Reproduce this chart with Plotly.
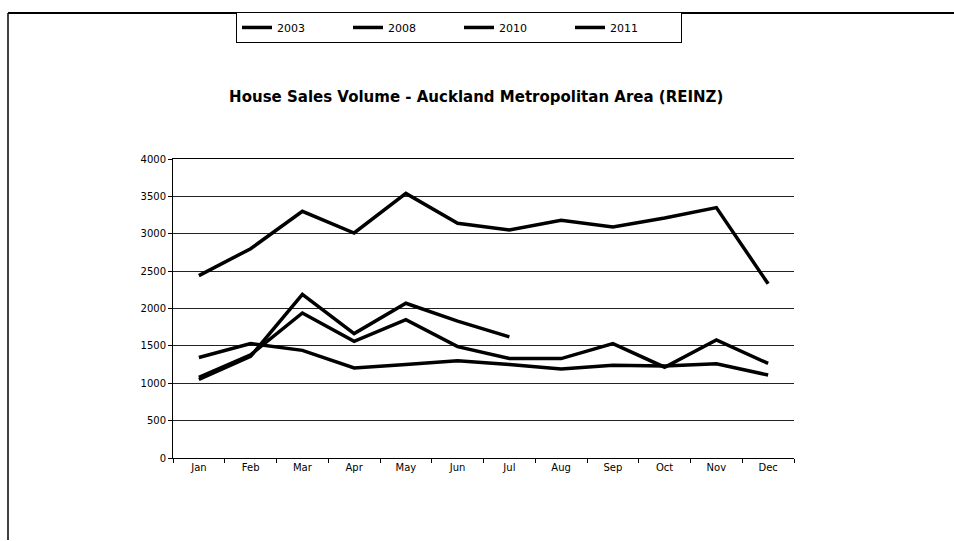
import plotly.graph_objects as go

months = ["Jan", "Feb", "Mar", "Apr", "May", "Jun", "Jul", "Aug", "Sep", "Oct", "Nov", "Dec"]
s2003 = [2440, 2800, 3300, 3010, 3540, 3140, 3050, 3180, 3090, 3210, 3350, 2330]
s2008 = [1345, 1530, 1440, 1205, 1250, 1300, 1250, 1190, 1240, 1230, 1260, 1110]
s2010 = [1080, 1380, 1940, 1560, 1850, 1490, 1330, 1330, 1530, 1215, 1580, 1265]
s2011 = [1050, 1360, 2190, 1665, 2070, 1830, 1620]
series = [("2003", s2003), ("2008", s2008), ("2010", s2010), ("2011", s2011)]
yticks = [0, 500, 1000, 1500, 2000, 2500, 3000, 3500, 4000]

W, H = 954, 541
L, R, T, B = 173, 794, 155, 458

fig = go.Figure()
for name, vals in series:
    fig.add_trace(go.Scatter(x=months[:len(vals)], y=vals, name=name, mode="lines",
                             line=dict(color="black", width=3.5)))

def px(x):
    return (x - L) / (R - L)

def py(y):
    return (B - y) / (B - T)

# outer frame (top and left)
fig.add_shape(type="line", xref="paper", yref="paper", x0=px(8), x1=px(954), y0=py(7), y1=py(7),
              line=dict(color="black", width=2))
fig.add_shape(type="line", xref="paper", yref="paper", x0=px(8), x1=px(8), y0=py(7), y1=py(541),
              line=dict(color="black", width=1.5))

fig.update_layout(
    width=W, height=H,
    margin=dict(l=L, r=W - R, t=T, b=H - B),
    paper_bgcolor="white", plot_bgcolor="white",
    font=dict(family="DejaVu Sans", color="black", size=10),
    title=dict(text="<b>House Sales Volume - Auckland Metropolitan Area (REINZ)</b>",
               x=px(483), xanchor="center", y=1 - 97 / H, yanchor="middle",
               font=dict(family="DejaVu Sans", size=15, color="black")),
    legend=dict(orientation="h", x=px(236), xanchor="left", y=py(6), yanchor="top",
                bordercolor="black", borderwidth=1, bgcolor="white",
                font=dict(family="DejaVu Sans", size=11, color="black"),
                entrywidth=66, entrywidthmode="pixels", itemwidth=30,
                tracegroupgap=0),
    showlegend=True,
)
fig.update_xaxes(type="category", categoryorder="array", categoryarray=months,
                 range=[-0.5, 11.5], showline=True, mirror=True, linecolor="black", linewidth=1,
                 ticks="outside", tickson="boundaries", ticklen=4, tickcolor="black",
                 showgrid=False, zeroline=False, tickfont=dict(size=10))
fig.update_yaxes(range=[0, 4000], tickvals=yticks, showline=True, linecolor="black",
                 linewidth=1, ticks="outside", ticklen=4, tickcolor="black",
                 showgrid=True, gridcolor="#222222", gridwidth=1, zeroline=False,
                 tickfont=dict(size=10))

fig.write_html("out.html")
